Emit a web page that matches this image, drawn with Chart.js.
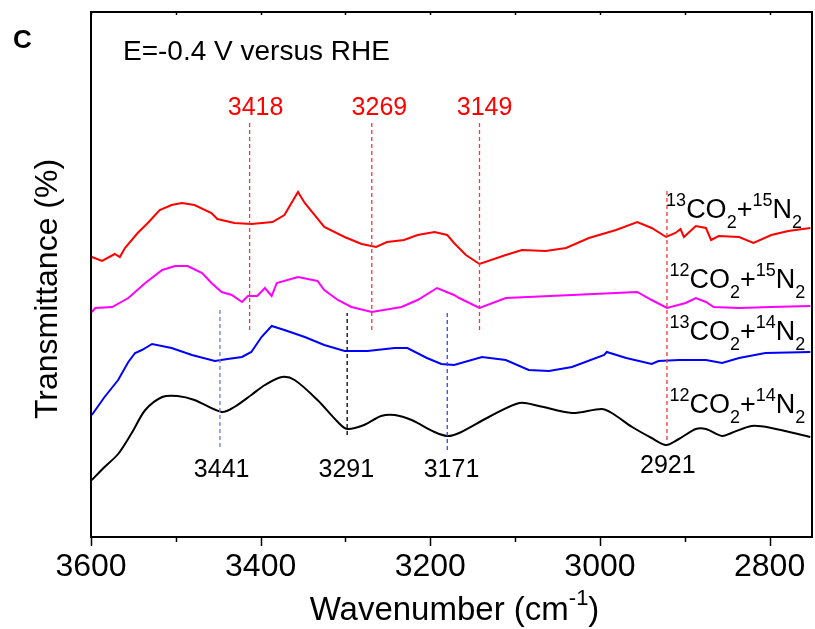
<!DOCTYPE html>
<html>
<head>
<meta charset="utf-8">
<script src="https://cdn.jsdelivr.net/npm/chart.js@4.4.0/dist/chart.umd.min.js"></script>
<style>
  html, body { margin: 0; padding: 0; background: #fff; }
  #wrap { width: 815px; height: 629px; position: relative; }
</style>
</head>
<body>
<div id="wrap"><canvas id="ftir"></canvas></div>
<script>
const FONT = '"Liberation Sans", Arial, Helvetica, sans-serif';

// wavenumber (cm-1) and transmittance (arb. units, traces offset)
const wn13C15N = [3599, 3587, 3572, 3566, 3560, 3545, 3533, 3519, 3505, 3493, 3478, 3458, 3451, 3431, 3411, 3386, 3372, 3356, 3348, 3325, 3301, 3281, 3264, 3251, 3231, 3215, 3195, 3180, 3172, 3158, 3142, 3111, 3092, 3064, 3040, 3013, 2981, 2956, 2939, 2922, 2911, 2905, 2901, 2887, 2875, 2869, 2860, 2836, 2819, 2798, 2778, 2752];
const t13C15N = [280, 276, 283, 280, 289, 304, 314, 327, 332, 334, 332, 324, 318, 314, 313, 315, 322, 345, 334, 310, 300, 293, 290, 295, 297, 302, 305, 302, 294, 282, 273, 282, 287, 286, 289, 299, 307, 315, 309, 300, 304, 308, 300, 311, 309, 297, 301, 300, 294, 302, 306, 309];

const wn12C15N = [3599, 3595, 3575, 3556, 3536, 3516, 3501, 3486, 3469, 3458, 3446, 3434, 3422, 3415, 3404, 3395, 3387, 3381, 3356, 3333, 3325, 3309, 3293, 3269, 3234, 3215, 3192, 3172, 3166, 3142, 3111, 3033, 2956, 2939, 2921, 2899, 2887, 2875, 2866, 2836, 2798, 2752];
const t12C15N = [225, 229, 230, 239, 254, 267, 271, 271, 264, 254, 245, 242, 235, 241, 241, 249, 241, 254, 260, 256, 247, 237, 230, 225, 230, 237, 249, 242, 239, 229, 239, 242, 245, 237, 229, 234, 239, 235, 230, 229, 230, 231];

const wn13C14N = [3599, 3584, 3568, 3556, 3548, 3540, 3528, 3505, 3481, 3454, 3439, 3422, 3411, 3399, 3387, 3372, 3348, 3325, 3301, 3274, 3242, 3227, 3204, 3187, 3172, 3139, 3111, 3084, 3060, 3033, 2995, 2992, 2969, 2939, 2931, 2907, 2875, 2856, 2836, 2805, 2752];
const t13C14N = [122, 140, 157, 175, 184, 187, 193, 189, 182, 176, 178, 180, 185, 200, 211, 207, 200, 192, 186, 186, 189, 189, 179, 173, 172, 180, 177, 167, 166, 170, 182, 185, 179, 173, 176, 177, 177, 174, 179, 184, 185];

const wn12C14N = [3599, 3584, 3568, 3552, 3536, 3516, 3498, 3478, 3446, 3431, 3411, 3395, 3375, 3360, 3333, 3309, 3298, 3278, 3258, 3242, 3222, 3195, 3180, 3166, 3131, 3095, 3072, 3033, 2998, 2986, 2962, 2939, 2922, 2907, 2887, 2875, 2856, 2845, 2821, 2798, 2752];
const t12C14N = [57, 70, 83, 104, 127, 140, 141, 137, 125, 130, 142, 152, 160, 157, 137, 115, 108, 112, 121, 122, 117, 105, 101, 104, 120, 134, 131, 124, 128, 124, 110, 99, 92, 98, 108, 108, 101, 104, 111, 109, 100];

const xTicks = [3600, 3500, 3400, 3300, 3200, 3100, 3000, 2900, 2800];

// dashed peak markers: position, label, label position
const redPeaks = [3413, 3269, 3142, 2921];
const redSpans = [[207, 415], [207, 415], [207, 415], [97, 349]];
const redLabels = ['3418', '3269', '3149'];
const redLabelWn = [3406, 3260, 3136];

const lowPeaks = [3448, 3298, 3180];
const lowSpans = [[90, 230], [102, 224], [87, 224]];
const lowColors = ['#6677f2', '#000000', '#3344ee'];
const lowLabels = ['3441', '3291', '3171', '2921'];
const lowLabelWn = [3446, 3299, 3175, 2920];
const lowLabelY = [60, 60, 60, 64];

const traceNames = [
  [['13', 'sup'], ['CO'], ['2', 'sub'], ['+'], ['15', 'sup'], ['N'], ['2', 'sub']],
  [['12', 'sup'], ['CO'], ['2', 'sub'], ['+'], ['15', 'sup'], ['N'], ['2', 'sub']],
  [['13', 'sup'], ['CO'], ['2', 'sub'], ['+'], ['14', 'sup'], ['N'], ['2', 'sub']],
  [['12', 'sup'], ['CO'], ['2', 'sub'], ['+'], ['14', 'sup'], ['N'], ['2', 'sub']]
];
const traceNameWn = [2922, 2918, 2918, 2918];
const traceNameY = [319, 249, 197, 124];

function pts(xs, ys) {
  return xs.map((x, i) => ({ x: x, y: ys[i] }));
}

function trace(xs, ys, color, tension) {
  return { data: pts(xs, ys), borderColor: color, borderWidth: 2, pointRadius: 0, tension: tension || 0, fill: false };
}

function marker(wn, span, color) {
  return { data: [{ x: wn, y: span[0] }, { x: wn, y: span[1] }], borderColor: color,
           borderWidth: 1.3, borderDash: [4, 3], pointRadius: 0, fill: false };
}

const datasets = [];
redPeaks.forEach((p, i) => datasets.push(marker(p, redSpans[i], '#ee3b3b')));
lowPeaks.forEach((p, i) => datasets.push(marker(p, lowSpans[i], lowColors[i])));
datasets.push(trace(wn13C15N, t13C15N, '#ff0000'));
datasets.push(trace(wn12C15N, t12C15N, '#ff00ff'));
datasets.push(trace(wn13C14N, t13C14N, '#0000ff'));
datasets.push(trace(wn12C14N, t12C14N, '#000000', 0.3));

// text with super/subscripts
function richWidth(ctx, parts, base) {
  let w = 0;
  parts.forEach(([t, kind]) => {
    ctx.font = (kind ? Math.round(base * 0.66) : base) + 'px ' + FONT;
    w += ctx.measureText(t).width;
  });
  return w;
}

function rich(ctx, parts, x, y, base) {
  let cx = x;
  parts.forEach(([t, kind]) => {
    const dy = kind === 'sup' ? -base * 0.45 : kind === 'sub' ? base * 0.36 : 0;
    ctx.font = (kind ? Math.round(base * 0.66) : base) + 'px ' + FONT;
    ctx.fillText(t, cx, y + dy);
    cx += ctx.measureText(t).width;
  });
}

const annotate = {
  id: 'annotate',
  afterDraw(chart) {
    const { ctx, chartArea: a, scales: { x, y } } = chart;
    ctx.save();

    ctx.strokeStyle = '#000';
    ctx.lineWidth = 2;
    ctx.strokeRect(a.left, a.top, a.right - a.left, a.bottom - a.top);

    ctx.lineWidth = 1.5;
    xTicks.forEach(v => {
      const px = Math.round(x.getPixelForValue(v)) + 0.5;
      const len = v % 200 === 0 ? 9 : 5;
      ctx.beginPath();
      ctx.moveTo(px, a.bottom);
      ctx.lineTo(px, a.bottom + len);
      ctx.moveTo(px, a.top);
      ctx.lineTo(px, a.top + 3);
      ctx.stroke();
    });

    ctx.textBaseline = 'alphabetic';
    ctx.textAlign = 'center';
    ctx.font = '25px ' + FONT;
    ctx.fillStyle = '#ff0000';
    redLabels.forEach((t, i) => ctx.fillText(t, x.getPixelForValue(redLabelWn[i]), y.getPixelForValue(422)));
    ctx.fillStyle = '#000';
    lowLabels.forEach((t, i) => ctx.fillText(t, x.getPixelForValue(lowLabelWn[i]), y.getPixelForValue(lowLabelY[i])));

    ctx.textAlign = 'left';
    traceNames.forEach((parts, i) => rich(ctx, parts, x.getPixelForValue(traceNameWn[i]), y.getPixelForValue(traceNameY[i]), 27));

    ctx.font = '28px ' + FONT;
    ctx.fillText('E=-0.4 V versus RHE', 123, 60);
    ctx.font = 'bold 26px ' + FONT;
    ctx.fillText('C', 13, 48);

    // axis titles
    const xt = [['Wavenumber (cm'], ['-1', 'sup'], [')']];
    const xw = richWidth(ctx, xt, 33);
    rich(ctx, xt, (a.left + a.right) / 2 + 3 - xw / 2, 620, 33);

    ctx.translate(57, 289);
    ctx.rotate(-Math.PI / 2);
    ctx.textAlign = 'center';
    ctx.font = '32px ' + FONT;
    ctx.fillText('Transmittance (%)', 0, 0);
    ctx.restore();
  }
};

new Chart(document.getElementById('ftir'), {
  type: 'line',
  data: { datasets: datasets },
  options: {
    responsive: true,
    maintainAspectRatio: false,
    animation: false,
    layout: { padding: { left: 91, right: 3, top: 12, bottom: 0 } },
    plugins: { legend: { display: false }, tooltip: { enabled: false } },
    scales: {
      x: {
        type: 'linear',
        reverse: true,
        min: 2750,
        max: 3600,
        afterBuildTicks: s => { s.ticks = xTicks.map(v => ({ value: v })); },
        afterFit: s => { s.height = 92; s.paddingLeft = 0; s.paddingRight = 0; },
        grid: { display: false, drawTicks: false },
        border: { display: false },
        ticks: {
          padding: 11,
          color: '#000',
          font: { size: 32, family: FONT },
          maxRotation: 0,
          autoSkip: false,
          callback: v => (v % 200 === 0 ? String(v) : '')
        }
      },
      y: { display: false, min: 0, max: 525 }
    }
  },
  plugins: [annotate]
});
</script>
</body>
</html>
